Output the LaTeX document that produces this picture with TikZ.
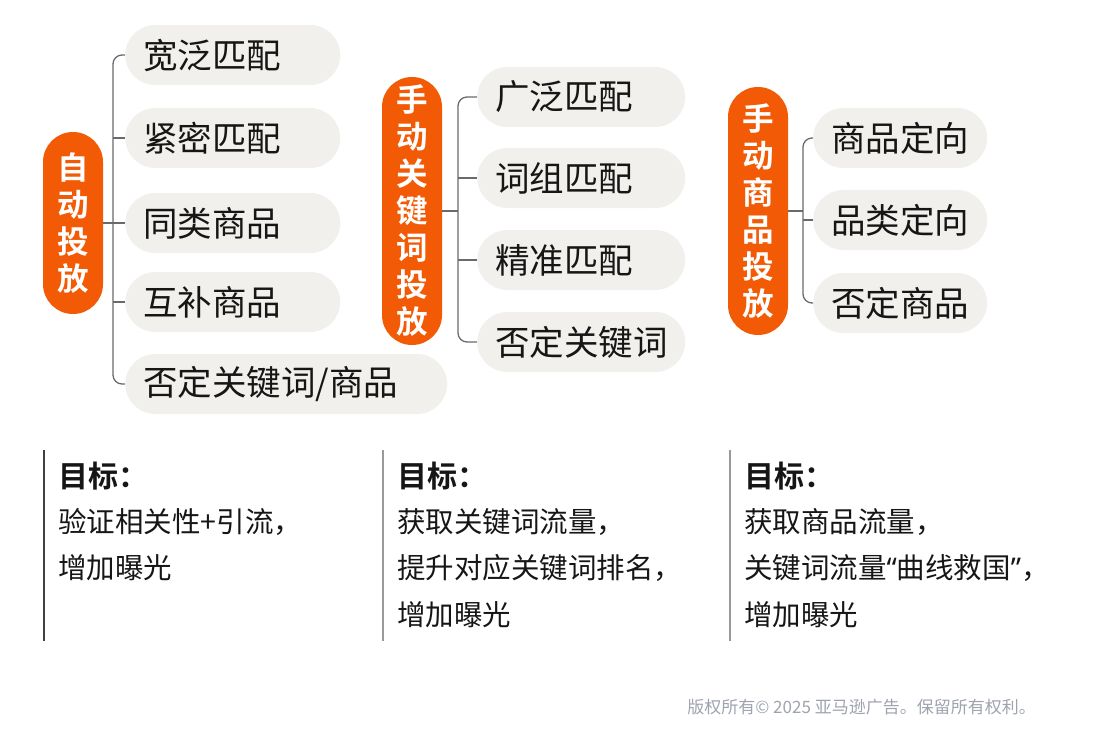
\documentclass[tikz,border=0pt]{standalone}
\usepackage{fontspec}
\setmainfont{Noto Sans CJK SC}[BoldFont={Noto Sans CJK SC Bold}]
\newfontfamily\quotefont{Noto Sans}
\pgfdeclarelayer{edgelayer}
\pgfdeclarelayer{nodelayer}
\pgfsetlayers{edgelayer,nodelayer,main}
\definecolor{adorange}{HTML}{F25A05}
\definecolor{adgrey}{HTML}{F1F0EC}
\definecolor{adtext}{HTML}{161616}
\definecolor{adline}{HTML}{6A6A6A}
\definecolor{adnote}{HTML}{9EA3AE}
\tikzstyle{group}=[rectangle,rounded corners=30pt,fill=adorange,text=white,minimum width=60pt,inner sep=0pt,align=center,font=\bfseries\fontsize{31.5}{37}\selectfont]
\tikzstyle{option}=[rectangle,rounded corners=30pt,fill=adgrey,text=adtext,minimum height=60pt,inner xsep=18pt,inner ysep=0pt,anchor=west,align=left,font=\fontsize{34.5}{34.5}\selectfont]
\tikzstyle{bracket}=[draw=adline,line width=1.3pt,rounded corners=9pt]
\tikzstyle{divider}=[line width=1.2pt]
\tikzstyle{goal}=[anchor=west,text=adtext,inner sep=0pt,font=\bfseries\fontsize{30}{30}\selectfont]
\tikzstyle{reason}=[anchor=north west,align=left,text=adtext,inner sep=0pt,font=\fontsize{28.5}{46.5}\selectfont]

\begin{document}
\begin{tikzpicture}[x=1pt,y=-1pt]
	\useasboundingbox (0,0) rectangle (1093,733);
	\begin{pgfonlayer}{nodelayer}
		\node [style=group, minimum height=182pt] (0) at (73, 223) {自\\动\\投\\放};
		\node [style=option, text width=179pt] (1) at (125, 55) {宽泛匹配};
		\node [style=option, text width=179pt] (2) at (125, 138) {紧密匹配};
		\node [style=option, text width=179pt] (3) at (125, 223) {同类商品};
		\node [style=option, text width=179pt] (4) at (125, 302) {互补商品};
		\node [style=option, text width=286pt] (5) at (125, 384) {否定关键词/商品};
		\coordinate (b1) at (113, 223);

		\node [style=group, minimum height=268pt] (6) at (412, 211) {手\\动\\关\\键\\词\\投\\放};
		\node [style=option, text width=172pt] (7) at (477, 97) {广泛匹配};
		\node [style=option, text width=172pt] (8) at (477, 178) {词组匹配};
		\node [style=option, text width=172pt] (9) at (477, 260) {精准匹配};
		\node [style=option, text width=172pt] (10) at (477, 342) {否定关键词};
		\coordinate (b2) at (458, 211);

		\node [style=group, minimum height=248pt] (11) at (758, 211) {手\\动\\商\\品\\投\\放};
		\node [style=option, text width=138pt] (12) at (813, 138) {商品定向};
		\node [style=option, text width=138pt] (13) at (813, 220) {品类定向};
		\node [style=option, text width=138pt] (14) at (813, 303) {否定商品};
		\coordinate (b3) at (803, 211);

		\node [style=goal] (15) at (58, 476) {目标：};
		\node [style=reason] (16) at (58, 508) {验证相关性+引流，\\增加曝光};
		\node [style=goal] (17) at (397, 476) {目标：};
		\node [style=reason] (18) at (397, 508) {获取关键词流量，\\提升对应关键词排名，\\增加曝光};
		\node [style=goal] (19) at (744, 476) {目标：};
		\node [style=reason] (20) at (744, 508) {获取商品流量，\\关键词流量{\quotefont “}曲线救国{\quotefont ”}，\\增加曝光};

		\node [anchor=east, text=adnote, inner sep=0pt, font=\fontsize{17}{17}\selectfont] (21) at (1036, 707) {版权所有© 2025 亚马逊广告。保留所有权利。};
	\end{pgfonlayer}
	\begin{pgfonlayer}{edgelayer}
		\draw [style=bracket] (1.west) -| (b1) |- (5.west);
		\draw [style=bracket] (0.east) -- (3.west);
		\draw [style=bracket] (2.west -| b1) -- (2.west);
		\draw [style=bracket] (4.west -| b1) -- (4.west);

		\draw [style=bracket] (7.west) -| (b2) |- (10.west);
		\draw [style=bracket] (6.east) -- (b2);
		\draw [style=bracket] (8.west -| b2) -- (8.west);
		\draw [style=bracket] (9.west -| b2) -- (9.west);

		\draw [style=bracket] (12.west) -| (b3) |- (14.west);
		\draw [style=bracket] (11.east) -- (b3);
		\draw [style=bracket] (13.west -| b3) -- (13.west);

		\draw [style=divider, draw=black!75] (44, 450) -- (44, 641);
		\draw [style=divider, draw=black!40] (383, 450) -- (383, 641);
		\draw [style=divider, draw=black!40] (730, 450) -- (730, 641);
	\end{pgfonlayer}
\end{tikzpicture}
\end{document}
